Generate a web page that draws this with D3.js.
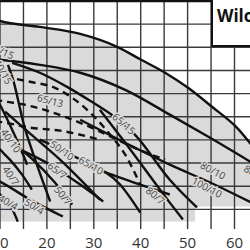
<!DOCTYPE html>
<html>
<head>
<meta charset="utf-8">
<script src="https://cdn.jsdelivr.net/npm/d3@7"></script>
<style>
  body { margin: 0; background: #fff; }
  svg { display: block; }
</style>
</head>
<body>
<div id="chart"></div>
<script>
var w = 250,
  h = 250;

// x ticks (Q m3/h) and grid
var qTicks = [10, 20, 30, 40, 50, 60];
var qGrid = [10, 15, 20, 25, 30, 35, 40, 45, 50, 55, 60];
var hGrid = [1, 2, 3, 4, 5, 6, 7, 8, 9, 10];

// pump curves [Q, H]
var curve_top = [[8, 9.3], [10, 9.14], [18.5, 8.88], [27.1, 8.58], [35, 8.02], [40.1, 7.46], [45.2, 6.9], [50.1, 6.25], [55.2, 5.43], [60.3, 4.57], [64.4, 3.58]];
var curve_80_15 = [[8, 7.5], [10, 7.46], [18.5, 7.24], [27.1, 6.9], [36.7, 6.16], [46.2, 5.09], [54.8, 4.09], [64.4, 2.93]];
var curve_65_15 = [[12.6, 7.33], [18.5, 6.9], [24.3, 6.29], [29.2, 5.69], [34.1, 5.04], [38.8, 4.22], [46.2, 2.28], [52, 1.08]];
var curve_40_15 = [[11.7, 7.24], [12.8, 6.59], [15.1, 4.65], [17.5, 3.15], [20.7, 1.34]];
var curve_40_10 = [[9, 5.9], [10, 5.52], [12.1, 4.65], [14.3, 3.66], [15.8, 2.93]];
var curve_40_7 = [[9, 3.8], [10, 3.58], [12.1, 3.15], [14.7, 2.5], [16.8, 1.85]];
var curve_40_4 = [[9, 1.85], [10, 1.64], [12.1, 1.21], [13.8, 0.47]];
var curve_50_4 = [[9, 2.3], [10, 2.2], [16.4, 1.42], [23.4, 0.69]];
var curve_50_7 = [[13.2, 3.79], [17, 3.15], [21.7, 2.16], [25.4, 1.21]];
var curve_50_10 = [[11.1, 5.22], [14.7, 4.57], [22.8, 3.15], [31.3, 1.42]];
var curve_65_7 = [[14.3, 3.58], [20.7, 2.93], [27.1, 2.07], [32, 1.34]];
var curve_65_10 = [[18.5, 4.01], [27.1, 3.15], [35.6, 2.07], [39.9, 0.86]];
var curve_80_7 = [[27.1, 3.02], [35.6, 2.37], [46.2, 1.64]];
var curve_80_10 = [[27.1, 4.87], [38.8, 3.66], [46.2, 2.93], [54.8, 2.16], [64.4, 1.21]];
var curve_100_10 = [[31.3, 5.3], [36.7, 3.88], [46.2, 1.29], [49, 0.56]];
// dashed curves
var curve_d1 = [[11.1, 6.72], [16.4, 6.51], [21.7, 6.25], [26, 5.73], [30.3, 4.96], [33.5, 4.22], [36.7, 3.36], [39.9, 2.07]];
var curve_65_13 = [[9, 5.75], [10, 5.7], [15.3, 5.52], [20.7, 5.22], [27.1, 4.74], [33.5, 4.15], [39.9, 3.55], [45.2, 3.15]];
var curve_d3 = [[9, 4.8], [10, 4.78], [16.4, 4.53], [22.8, 4.4], [31.3, 4.01]];

// shaded working range (lower edge)
var fillBottom = [[64.4, 1.12], [51.6, 1.12], [51.6, 0.47], [8, 0.47]];

// curve labels
var labelText = ["50/15", "40/15", "65/13", "65/15", "40/10", "50/10", "65/10", "65/7", "40/7", "50/7", "40/4", "50/4", "80/7", "80/10", "100/10", "80/15"];
var labelQ = [10.3, 10.6, 20.7, 36.4, 12.3, 23.2, 29.4, 22.2, 12.3, 23.4, 11.7, 17.3, 43.1, 55.4, 54.1, 62.2];
var labelH = [7.84, 6.94, 5.69, 4.69, 3.96, 3.54, 2.89, 2.67, 2.45, 1.59, 1.3, 1.12, 1.59, 2.67, 1.94, 2.8];
var labelAngle = [25, 60, 15, 42, 55, 35, 30, 38, 55, 50, 30, 32, 40, 28, 28, 30];
var labelAnchor = ["middle", "middle", "middle", "middle", "middle", "middle", "middle", "middle", "middle", "middle", "middle", "middle", "middle", "middle", "middle", "start"];

var x = d3.scaleLinear().domain([10, 60]).range([0, 234.5]);
var y = d3.scaleLinear().domain([0, 10]).range([232.5, 1]);

var svg = d3.select("#chart").append("svg")
  .attr("width", w)
  .attr("height", h);

var line = d3.line()
  .x(function(d) { return x(d[0]); })
  .y(function(d) { return y(d[1]); })
  .curve(d3.curveMonotoneX);

// gray area under the top curve
var area = curve_top.concat(fillBottom);
svg.append("path")
  .attr("d", d3.line().x(function(d) { return x(d[0]); }).y(function(d) { return y(d[1]); })(area))
  .attr("fill", "#dadada");

// grid
svg.selectAll(".vgrid")
  .data(qGrid)
  .enter().append("line")
  .attr("x1", function(d) { return x(d); })
  .attr("x2", function(d) { return x(d); })
  .attr("y1", 0)
  .attr("y2", 229)
  .attr("stroke", "#3a3a3a")
  .attr("stroke-width", 1.4);

svg.selectAll(".hgrid")
  .data(hGrid)
  .enter().append("line")
  .attr("x1", 0)
  .attr("x2", w)
  .attr("y1", function(d) { return y(d); })
  .attr("y2", function(d) { return y(d); })
  .attr("stroke", "#3a3a3a")
  .attr("stroke-width", 1.4);

// top border
svg.append("line")
  .attr("x1", 0).attr("x2", w)
  .attr("y1", 1).attr("y2", 1)
  .attr("stroke", "#111")
  .attr("stroke-width", 2.5);

// solid curves
var solid = [curve_top, curve_80_15, curve_65_15, curve_40_15, curve_40_10, curve_40_7, curve_40_4, curve_50_4, curve_50_7, curve_50_10, curve_65_7, curve_65_10, curve_80_7, curve_80_10, curve_100_10];
svg.selectAll(".solid")
  .data(solid)
  .enter().append("path")
  .attr("d", line)
  .attr("fill", "none")
  .attr("stroke", "#111")
  .attr("stroke-width", 2.4);

var dashed = [curve_d1, curve_65_13, curve_d3];
svg.selectAll(".dashed")
  .data(dashed)
  .enter().append("path")
  .attr("d", line)
  .attr("fill", "none")
  .attr("stroke", "#111")
  .attr("stroke-width", 2.4)
  .attr("stroke-dasharray", "7,5");

// labels
svg.selectAll(".lbl")
  .data(labelText)
  .enter().append("text")
  .attr("transform", function(d, i) {
    return "translate(" + x(labelQ[i]) + "," + y(labelH[i]) + ") rotate(" + labelAngle[i] + ")";
  })
  .attr("text-anchor", function(d, i) { return labelAnchor[i]; })
  .attr("dy", "0.35em")
  .attr("font-family", "Open Sans, sans-serif")
  .attr("font-size", "10px")
  .attr("fill", "#444")
  .attr("stroke", "#dadada")
  .attr("stroke-width", 3)
  .attr("paint-order", "stroke")
  .text(function(d) { return d; });

// x axis tick labels
svg.selectAll(".xl")
  .data(qTicks)
  .enter().append("text")
  .attr("x", function(d) { return x(d); })
  .attr("y", 248)
  .attr("text-anchor", "middle")
  .attr("font-family", "Open Sans, sans-serif")
  .attr("font-size", "15px")
  .attr("fill", "#333")
  .text(function(d) { return d; });

// title box
svg.append("rect")
  .attr("x", 212)
  .attr("y", -2)
  .attr("width", 45)
  .attr("height", 48)
  .attr("fill", "#fff")
  .attr("stroke", "#111")
  .attr("stroke-width", 2);

svg.append("text")
  .attr("x", 217)
  .attr("y", 22)
  .attr("font-family", "Open Sans, sans-serif")
  .attr("font-weight", "bold")
  .attr("font-size", "17px")
  .attr("fill", "#111")
  .text("Wilo-TOP-S");
</script>
</body>
</html>
